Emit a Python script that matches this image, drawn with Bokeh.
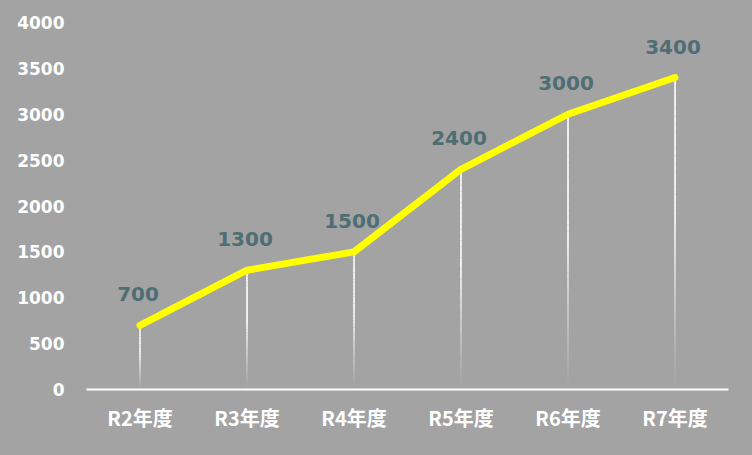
import numpy as np
from bokeh.plotting import figure
from bokeh.models import ColumnDataSource, FactorRange, Range1d, FixedTicker
from bokeh.core.properties import value
from bokeh.embed import file_html
from bokeh.resources import INLINE

# ---- data ----
categories = ["R2年度", "R3年度", "R4年度", "R5年度", "R6年度", "R7年度"]
values = [700, 1300, 1500, 2400, 3000, 3400]
y_ticks = [0, 500, 1000, 1500, 2000, 2500, 3000, 3500, 4000]

BG = "#A3A3A3"
LABEL_COLOR = "#4F6E74"
NUM_FONT = "'DejaVu Sans', Verdana"
JP_FONT = "'Noto Sans CJK JP'"

p = figure(
    x_range=FactorRange(*categories, range_padding=0),
    y_range=Range1d(0, 4000),
    width=752, height=455,
    output_backend="svg", toolbar_location=None,
    min_border_left=86, min_border_right=24,
    min_border_top=22, min_border_bottom=66,
)
p.styles = {"position": "fixed", "top": "0px", "left": "0px",
            "background-color": BG}
p.background_fill_color = BG
p.border_fill_color = BG
p.outline_line_color = None
p.xgrid.grid_line_color = None
p.ygrid.grid_line_color = None

# drop lines with fading gradient (many short segments)
N = 40
seg_x, seg_y0, seg_y1, seg_a = [], [], [], []
for c, v in zip(categories, values):
    for k in range(N):
        seg_x.append(c)
        seg_y0.append(v * k / N)
        seg_y1.append(v * (k + 1) / N)
        seg_a.append(min(1.0, ((k + 0.5) / N) * 1.8) ** 1.1)
drop_src = ColumnDataSource(dict(x=seg_x, y0=seg_y0, y1=seg_y1, a=seg_a))
p.segment(x0="x", y0="y0", x1="x", y1="y1", source=drop_src,
          line_color="#F6F6F6", line_alpha="a", line_width=1.8)

src = ColumnDataSource(dict(x=categories, y=values, lab=[str(v) for v in values]))
p.line(x="x", y="y", source=src, line_color="#FFFF00", line_width=7,
       line_join="round", line_cap="round")

p.text(x="x", y="y", text="lab", source=src,
       text_font=value(NUM_FONT), text_font_style="bold",
       text_font_size="20px", text_color=LABEL_COLOR,
       text_align="center", text_baseline="middle",
       x_offset=-2, y_offset=-31)

# axes
p.yaxis.ticker = FixedTicker(ticks=y_ticks)
p.yaxis.axis_line_color = None
p.yaxis.major_tick_line_color = None
p.yaxis.minor_tick_line_color = None
p.yaxis.major_tick_out = 0
p.yaxis.major_tick_in = 0
p.yaxis.major_label_standoff = 22
p.yaxis.major_label_text_font = NUM_FONT
p.yaxis.major_label_text_font_style = "bold"
p.yaxis.major_label_text_font_size = "17px"
p.yaxis.major_label_text_color = "white"

p.xaxis.axis_line_color = "white"
p.xaxis.axis_line_width = 2
p.xaxis.major_tick_line_color = None
p.xaxis.minor_tick_line_color = None
p.xaxis.major_tick_out = 0
p.xaxis.major_tick_in = 0
p.xaxis.major_label_standoff = 13
p.xaxis.major_label_text_font = JP_FONT
p.xaxis.major_label_text_font_style = "bold"
p.xaxis.major_label_text_font_size = "20px"
p.xaxis.major_label_text_color = "white"

open("out.html", "w").write(file_html(p, INLINE))
